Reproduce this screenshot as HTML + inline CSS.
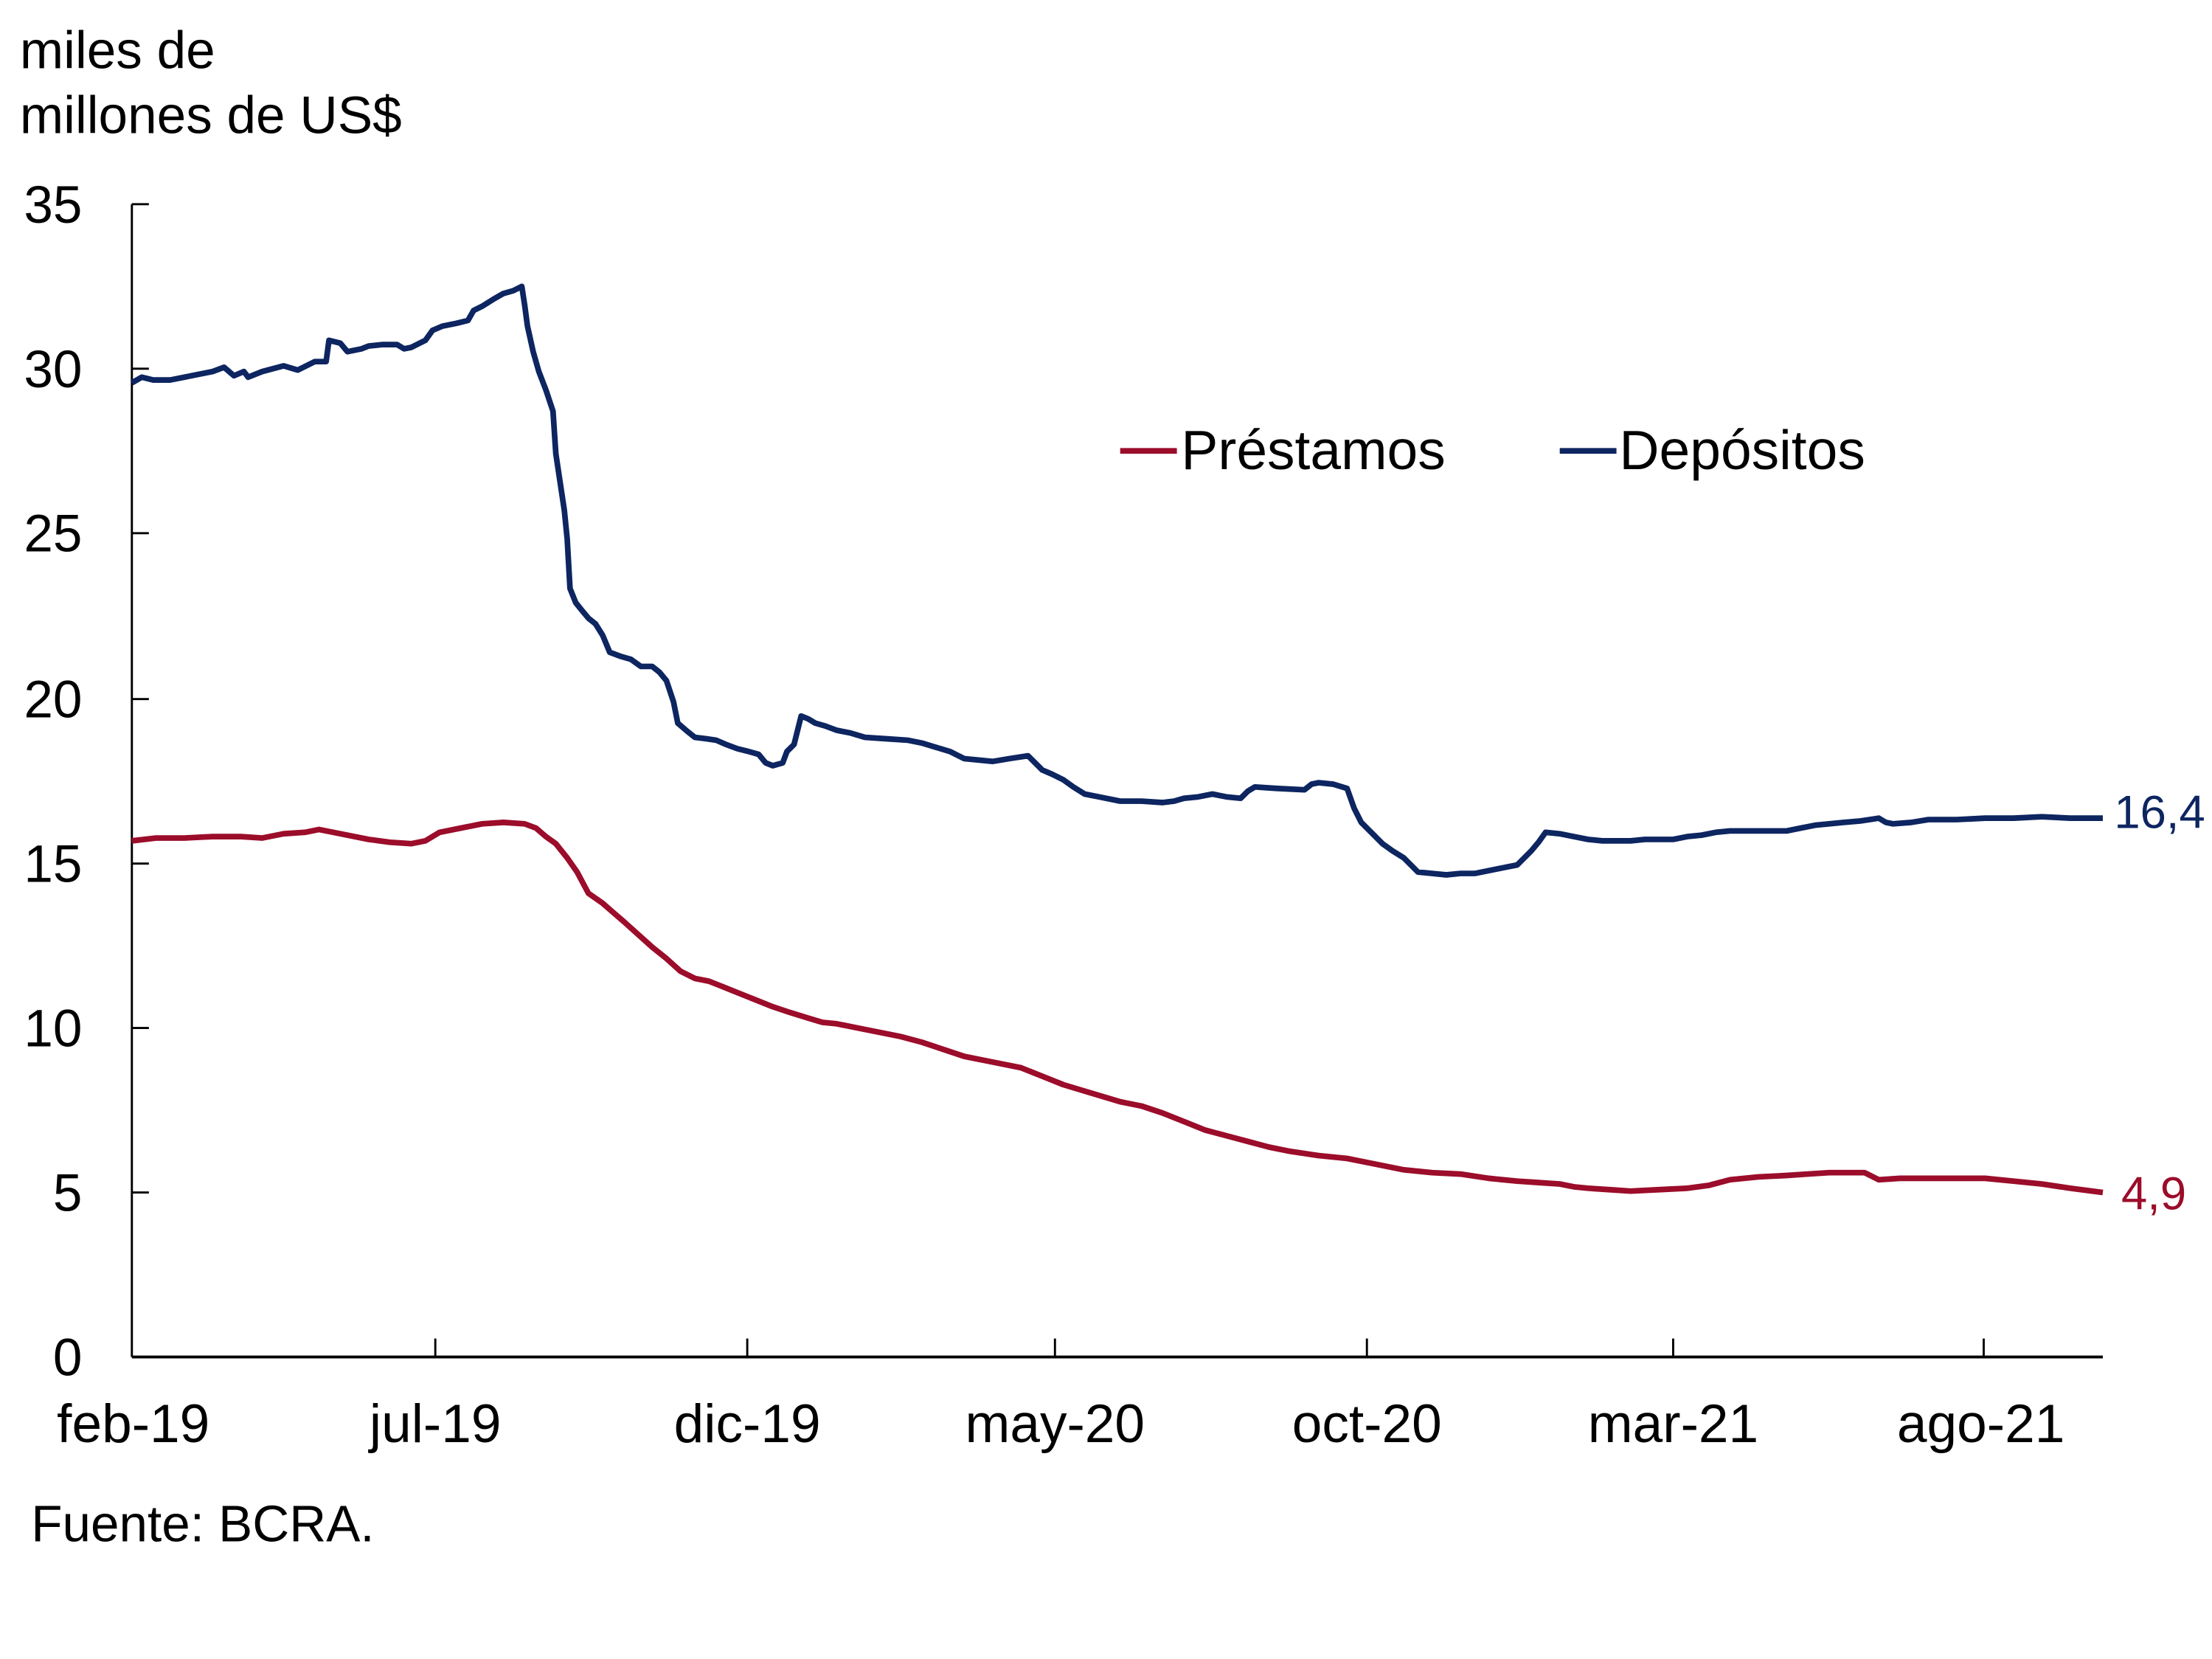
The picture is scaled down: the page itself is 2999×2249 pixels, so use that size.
<!DOCTYPE html>
<html><head><meta charset="utf-8"><style>
html,body{margin:0;padding:0;background:#fff;}
svg{display:block;}
text{font-family:"Liberation Sans",sans-serif;}
</style></head><body>
<svg width="2999" height="2249" viewBox="0 0 1560 1170" preserveAspectRatio="none" xmlns="http://www.w3.org/2000/svg">
<rect width="1560" height="1170" fill="#fff"/>
<text x="14" y="48" font-size="37" fill="#000">miles de</text>
<text x="14" y="94" font-size="37" fill="#000">millones de US$</text>
<g font-size="37" fill="#000" text-anchor="end">
<text x="58" y="157">35</text><text x="58" y="273">30</text><text x="58" y="389">25</text>
<text x="58" y="506">20</text><text x="58" y="622">15</text><text x="58" y="738">10</text>
<text x="58" y="854">5</text><text x="58" y="970">0</text>
</g>
<g stroke="#000" stroke-width="1.5" fill="none">
<line x1="93" y1="144" x2="93" y2="957"/>
<line x1="93" y1="144" x2="105" y2="144"/><line x1="93" y1="260" x2="105" y2="260"/>
<line x1="93" y1="376" x2="105" y2="376"/><line x1="93" y1="493" x2="105" y2="493"/>
<line x1="93" y1="609" x2="105" y2="609"/><line x1="93" y1="725" x2="105" y2="725"/>
<line x1="93" y1="841" x2="105" y2="841"/>
<line x1="307" y1="944" x2="307" y2="957"/><line x1="527" y1="944" x2="527" y2="957"/>
<line x1="744" y1="944" x2="744" y2="957"/><line x1="964" y1="944" x2="964" y2="957"/>
<line x1="1180" y1="944" x2="1180" y2="957"/><line x1="1399" y1="944" x2="1399" y2="957"/>
</g>
<line x1="93" y1="957" x2="1483" y2="957" stroke="#000" stroke-width="2"/>
<g font-size="38" fill="#000" text-anchor="middle">
<text x="94" y="1017">feb-19</text><text x="307" y="1017">jul-19</text><text x="527" y="1017">dic-19</text>
<text x="744" y="1017">may-20</text><text x="964" y="1017">oct-20</text><text x="1180" y="1017">mar-21</text>
<text x="1397" y="1017">ago-21</text>
</g>
<text x="22" y="1087" font-size="36" fill="#000">Fuente: BCRA.</text>
<polyline fill="none" stroke="#0d2560" stroke-width="4" stroke-linejoin="round" points="93,270 100,266 108,268 120,268 135,265 150,262 158,259 165,265 172,262 175,266 185,262 200,258 210,261 222,255 230,255 232,240 240,242 245,248 255,246 260,244 270,243 280,243 285,246 290,245 300,240 305,233 312,230 322,228 330,226 334,219 340,216 348,211 355,207 362,205 368,202 370,215 372,230 376,248 380,262 385,275 390,290 392,320 395,340 398,360 400,380 402,415 406,425 410,430 415,436 420,440 425,448 430,460 438,463 445,465 452,470 460,470 465,474 470,480 475,495 478,510 485,516 490,520 498,521 505,522 512,525 520,528 528,530 535,532 540,538 545,540 552,538 555,530 560,525 565,505 570,507 575,510 582,512 590,515 600,517 610,520 625,521 640,522 650,524 660,527 670,530 680,535 690,536 700,537 712,535 725,533 730,538 735,543 742,546 750,550 757,555 765,560 775,562 790,565 805,565 820,566 828,565 835,563 845,562 855,560 865,562 875,563 880,558 885,555 900,556 920,557 925,553 930,552 940,553 950,556 955,570 960,580 968,588 975,595 982,600 990,605 995,610 1000,615 1010,616 1020,617 1030,616 1040,616 1050,614 1060,612 1070,610 1080,600 1085,594 1090,587 1100,588 1110,590 1120,592 1130,593 1140,593 1150,593 1160,592 1170,592 1180,592 1190,590 1200,589 1210,587 1220,586 1240,586 1260,586 1270,584 1280,582 1290,581 1300,580 1312,579 1325,577 1330,580 1335,581 1348,580 1360,578 1380,578 1400,577 1420,577 1440,576 1460,577 1483,577"/>
<polyline fill="none" stroke="#9b0d2a" stroke-width="4" stroke-linejoin="round" points="93,593 110,591 130,591 150,590 170,590 185,591 200,588 215,587 225,585 240,588 260,592 275,594 290,595 300,593 310,587 325,584 340,581 355,580 370,581 378,584 385,590 392,595 400,605 407,615 415,630 425,637 433,644 440,650 450,659 460,668 470,676 480,685 490,690 500,692 510,696 520,700 530,704 545,710 557,714 570,718 580,721 590,722 605,725 620,728 635,731 650,735 665,740 680,745 700,749 720,753 735,759 750,765 770,771 790,777 805,780 820,785 835,791 850,797 865,801 880,805 895,809 910,812 930,815 950,817 970,821 990,825 1010,827 1030,828 1050,831 1070,833 1085,834 1100,835 1110,837 1120,838 1135,839 1150,840 1170,839 1190,838 1205,836 1220,832 1240,830 1260,829 1275,828 1290,827 1300,827 1315,827 1325,832 1340,831 1360,831 1380,831 1400,831 1420,833 1440,835 1460,838 1483,841"/>
<text x="1491" y="584" font-size="33" fill="#0d2560">16,4</text>
<text x="1496" y="853" font-size="33" fill="#9b0d2a">4,9</text>
<line x1="790" y1="318" x2="830" y2="318" stroke="#9b0d2a" stroke-width="4"/>
<text x="833" y="331" font-size="39" fill="#000">Préstamos</text>
<line x1="1100" y1="318" x2="1140" y2="318" stroke="#0d2560" stroke-width="4"/>
<text x="1142" y="331" font-size="39" fill="#000">Depósitos</text>
</svg>
</body></html>
